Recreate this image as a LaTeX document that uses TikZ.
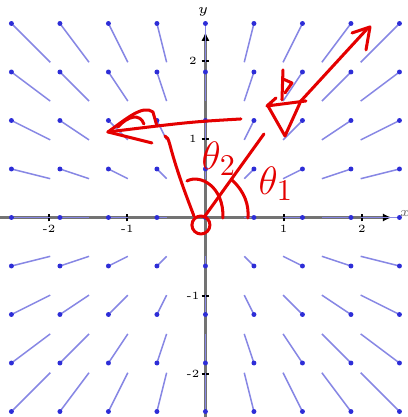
\documentclass[tikz,border=0pt]{standalone}
\usetikzlibrary{arrows.meta}
\definecolor{fieldblue}{RGB}{135,135,228}
\definecolor{dotblue}{RGB}{45,45,215}
\definecolor{penred}{RGB}{228,0,0}
\tikzset{
  fieldline/.style={fieldblue, line width=0.55pt},
  axisline/.style={black!55, line width=0.8pt, -{Latex[black,length=3.2pt,width=3pt]}},
  tickmark/.style={black, line width=0.6pt},
  ticklabel/.style={font=\fontsize{4}{4}\selectfont, inner sep=0.5pt},
  pen/.style={penred, line width=1.1pt, line cap=round, line join=round},
  pentext/.style={penred, font=\fontsize{15}{15}\selectfont, inner sep=0pt},
}
\begin{document}
\begin{tikzpicture}
  \useasboundingbox (-2.626,-2.550) rectangle (2.588,2.780);
  % axes
  \draw[axisline] (-2.63,0) -- (2.38,0) node[right=2pt, font=\fontsize{5}{5}\selectfont, inner sep=0.5pt, yshift=1.5pt] (xlab) {$x$};
  \draw[axisline] (0,-2.56) -- (0,2.37);
  \node[font=\fontsize{5}{5}\selectfont, inner sep=0.5pt] (ylab) at (-0.03,2.63) {$y$};
  \foreach \t in {-2,-1,1,2} {
    \draw[tickmark] (\t,-0.05) -- (\t,0.05);
    \draw[tickmark] (-0.05,\t) -- (0.05,\t);
    \node[ticklabel] (xt\t) at (\t,-0.14) {\t};
    \node[ticklabel] (yt\t) at (-0.16,\t) {\t};
  }
  % field
  \foreach \i in {-4,...,4}
    \foreach \j in {-4,...,4} {
      \draw[fieldline] (0.62*\i,0.62*\j) -- (0.496*\i,0.496*\j);
      \fill[dotblue] (0.62*\i,0.62*\j) circle (0.9pt);
    }
  % hand drawing, in pixel units of the sketch
  \begin{scope}[x=0.01278cm, y=-0.01278cm, shift={(-205.5,-217.5)}]
    % left arrow
    \draw[pen] (241,119) .. controls (190,122) .. (108,132);
    \draw[pen] (152,143) .. controls (130,137) .. (108,132)
      .. controls (125,120) and (143,104) .. (153,112) -- (157,126);
    \draw[pen] (118,127) .. controls (128,116) and (140,113) .. (144,124);
    % leg down to the origin
    \draw[pen] (165,136) .. controls (168,138) .. (170,145)
      .. controls (178,175) and (188,200) .. (194,216);
    \draw[pen] (201,225) circle (9);
    \draw[pen] (205,216) -- (264,134);
    % angle arcs
    \draw[pen] (187,181) .. controls (200,174) and (224,186) .. (223,218);
    \draw[pen] (232,180) .. controls (245,192) and (249,205) .. (248,218);
    \node[pentext] (th2) at (219,159) {$\theta_2$};
    \node[pentext] (th1) at (276,184) {$\theta_1$};
    % upper right arrow
    \draw[pen] (300,102) -- (368,28);
    \draw[pen] (352,33) -- (370,27) -- (366,50);
    \draw[pen] (276,98) -- (267,106) -- (306,101);
    \draw[pen] (268,106) -- (285,136) -- (300,103);
    \draw[pen] (283,70) -- (282,100);
    \draw[pen] (283,79) -- (292,83) -- (285,93);
  \end{scope}
\end{tikzpicture}
\end{document}
